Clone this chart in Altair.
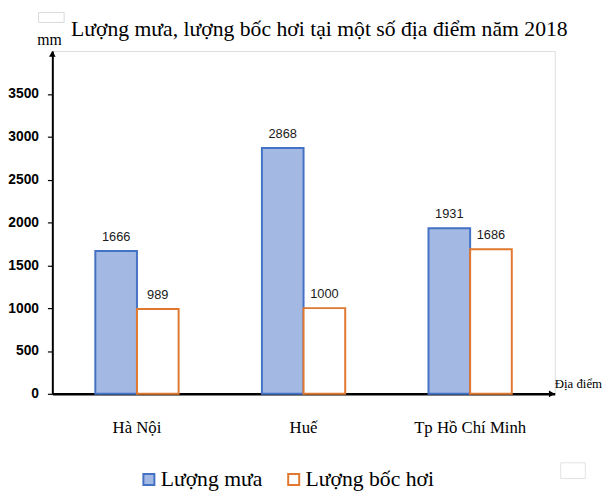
import altair as alt
import pandas as pd

locations = ["Hà Nội", "Huế", "Tp Hồ Chí Minh"]
series = ["Lượng mưa", "Lượng bốc hơi"]
rain = [1666, 2868, 1931]
evap = [989, 1000, 1686]
y_ticks = [0, 500, 1000, 1500, 2000, 2500, 3000, 3500]

title_text = "Lượng mưa, lượng bốc hơi tại một số địa điểm  năm 2018"
y_unit = "mm"
x_unit = "Địa điểm"

rows = []
for loc, r, e in zip(locations, rain, evap):
    rows.append({"loc": loc, "series": series[0], "value": r})
    rows.append({"loc": loc, "series": series[1], "value": e})
df = pd.DataFrame(rows)

SERIF = "Liberation Serif, Times New Roman, serif"
SANS = "Liberation Sans, Arial, sans-serif"

W, H = 510, 348

fill_scale = alt.Scale(domain=series, range=["#a3b8e3", "#ffffff"])
stroke_scale = alt.Scale(domain=series, range=["#4472C4", "#E0782F"])
legend = alt.Legend(
    title=None, orient="none", direction="horizontal",
    legendX=87, legendY=424, symbolType="square", symbolSize=125,
    symbolStrokeWidth=2, labelFont=SERIF, labelFontSize=22,
    labelColor="#000000", labelOffset=1, columnPadding=20, padding=0,
)

x_enc = alt.X(
    "loc:N", sort=locations,
    scale=alt.Scale(paddingInner=0.5, paddingOuter=0.258),
    axis=alt.Axis(title=None, labelAngle=0, ticks=False, domainColor="#000000",
                  domainWidth=2.5, labelFont=SERIF, labelFontSize=17,
                  labelColor="#000000", labelPadding=26),
)
y_enc = alt.Y(
    "value:Q",
    scale=alt.Scale(domain=[0, 4000], nice=False),
    axis=alt.Axis(title=None, values=y_ticks, format="d", grid=False,
                  domainColor="#000000", domainWidth=2, tickColor="#000000",
                  tickSize=5, tickWidth=1.2, labelFont=SANS, labelFontSize=14,
                  labelFontWeight="bold", labelColor="#000000", labelPadding=9),
)

bars = alt.Chart(df).mark_bar(strokeWidth=2).encode(
    x=x_enc,
    xOffset=alt.XOffset("series:N", sort=series),
    y=y_enc,
    fill=alt.Fill("series:N", scale=fill_scale, legend=legend),
    stroke=alt.Stroke("series:N", scale=stroke_scale, legend=legend),
)

labels = alt.Chart(df).mark_text(
    baseline="bottom", dy=-7, font=SANS, fontSize=13, color="#1a1a1a"
).encode(
    x=alt.X("loc:N", sort=locations),
    xOffset=alt.XOffset("series:N", sort=series),
    y="value:Q",
    text="value:Q",
)

deco = pd.DataFrame({"t": [title_text]})
title_mark = alt.Chart(deco).mark_text(
    font=SERIF, fontSize=22, color="#000000", align="center", baseline="alphabetic"
).encode(x=alt.value(271), y=alt.value(-15), text="t:N")

mm_mark = alt.Chart(pd.DataFrame({"t": [y_unit]})).mark_text(
    font=SERIF, fontSize=16, color="#000000", align="center", baseline="alphabetic"
).encode(x=alt.value(-3), y=alt.value(-6), text="t:N")

xunit_mark = alt.Chart(pd.DataFrame({"t": [x_unit]})).mark_text(
    font=SERIF, fontSize=13, color="#000000", align="left", baseline="alphabetic"
).encode(x=alt.value(510), y=alt.value(342), text="t:N")

one = pd.DataFrame({"k": [0]})
arrow_up = alt.Chart(one).mark_point(
    shape="triangle-up", filled=True, color="#000000", size=45, opacity=1
).encode(x=alt.value(0), y=alt.value(3))
arrow_right = alt.Chart(one).mark_point(
    shape="triangle-right", filled=True, color="#000000", size=45, opacity=1
).encode(x=alt.value(W - 3), y=alt.value(H))

box1 = alt.Chart(one).mark_rect(fill="#ffffff", stroke="#d9d9d9", strokeWidth=1).encode(
    x=alt.value(-14), x2=alt.value(12), y=alt.value(-39), y2=alt.value(-29))
box2 = alt.Chart(one).mark_rect(fill="#ffffff", stroke="#e3e3e3", strokeWidth=1).encode(
    x=alt.value(516), x2=alt.value(541), y=alt.value(418), y2=alt.value(434))

chart = alt.layer(
    bars, labels, title_mark, mm_mark, xunit_mark, arrow_up, arrow_right, box1, box2
).properties(
    width=W, height=H,
    autosize=alt.AutoSizeParams(type="none"),
    padding={"left": 45, "top": 40, "right": 52, "bottom": 95},
).configure_view(stroke=None).configure(background="#ffffff")

chart.save("out.html", embed_options={"renderer": "svg", "actions": False})
